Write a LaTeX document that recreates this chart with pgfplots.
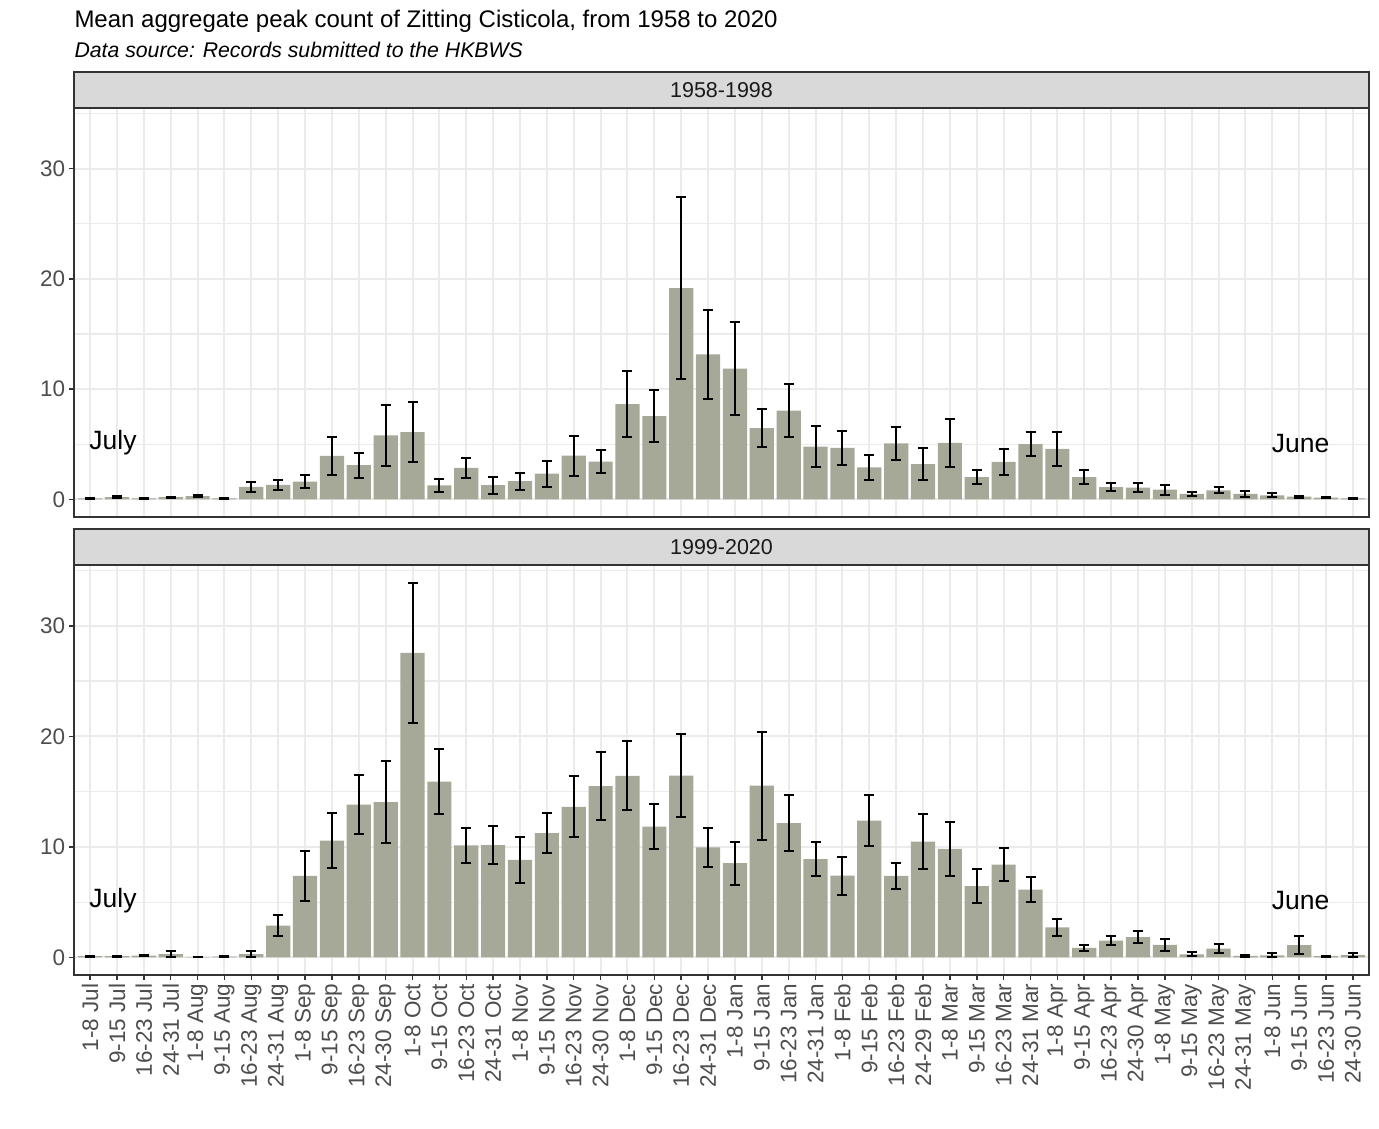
\documentclass[border=0pt]{standalone}
\usepackage{pgfplots}
\pgfplotsset{compat=1.18}
\usepackage{pgfplotstable}
\usepackage{fontspec}
\setmainfont{Liberation Sans}
\definecolor{barcol}{RGB}{166,168,152}
\definecolor{grid92}{RGB}{235,235,235}
\definecolor{grey20}{RGB}{51,51,51}
\definecolor{grey30}{RGB}{77,77,77}
\definecolor{strip}{RGB}{217,217,217}
\definecolor{grey10}{RGB}{26,26,26}

\pgfplotstableread{
x y e
1 0.10 0.05
2 0.20 0.06
3 0.10 0.04
4 0.20 0.05
5 0.30 0.08
6 0.10 0.04
7 1.13 0.47
8 1.32 0.45
9 1.61 0.56
10 3.95 1.72
11 3.10 1.15
12 5.81 2.77
13 6.10 2.75
14 1.26 0.58
15 2.85 0.94
16 1.28 0.77
17 1.65 0.76
18 2.33 1.19
19 3.96 1.82
20 3.42 1.07
21 8.63 3.00
22 7.56 2.32
23 19.15 8.25
24 13.15 4.05
25 11.86 4.19
26 6.46 1.73
27 8.04 2.41
28 4.78 1.86
29 4.67 1.57
30 2.91 1.13
31 5.08 1.50
32 3.20 1.48
33 5.12 2.20
34 2.02 0.60
35 3.40 1.20
36 5.02 1.10
37 4.58 1.54
38 2.02 0.60
39 1.10 0.35
40 1.07 0.38
41 0.88 0.45
42 0.49 0.22
43 0.82 0.28
44 0.49 0.25
45 0.37 0.17
46 0.24 0.10
47 0.15 0.06
48 0.10 0.05
}\toptable

\pgfplotstableread{
x y e
1 0.10 0.04
2 0.10 0.04
3 0.15 0.07
4 0.29 0.26
5 0.02 0.02
6 0.06 0.04
7 0.29 0.26
8 2.87 0.93
9 7.36 2.22
10 10.57 2.45
11 13.82 2.65
12 14.05 3.72
13 27.54 6.30
14 15.90 2.92
15 10.12 1.57
16 10.15 1.75
17 8.82 2.06
18 11.24 1.78
19 13.61 2.76
20 15.50 3.05
21 16.42 3.13
22 11.83 2.04
23 16.45 3.73
24 9.94 1.78
25 8.53 1.95
26 15.54 4.88
27 12.15 2.50
28 8.88 1.51
29 7.40 1.72
30 12.37 2.34
31 7.36 1.17
32 10.46 2.47
33 9.82 2.42
34 6.45 1.50
35 8.38 1.50
36 6.13 1.12
37 2.70 0.80
38 0.85 0.28
39 1.51 0.39
40 1.83 0.53
41 1.12 0.55
42 0.27 0.18
43 0.78 0.40
44 0.12 0.08
45 0.18 0.18
46 1.10 0.80
47 0.10 0.05
48 0.20 0.17
}\bottable

\pgfplotsset{
  panel/.style={
    scale only axis,
    width=518pt,
    xmin=0.4, xmax=48.6,
    ymin=-1.6, ymax=35.5,
    xtick={1,...,48},
    ytick={0,10,20,30},
    minor ytick={5,15,25,35},
    xmajorgrids, ymajorgrids, yminorgrids,
    major grid style={grid92, line width=0.8pt},
    minor grid style={grid92, line width=0.45pt},
    axis line style={grey20, line width=0.6pt},
    tick align=outside,
    major tick length=1.8pt,
    minor tick length=0pt,
    tick style={grey20, line width=0.6pt},
    yticklabel style={text=grey30, font=\fontsize{9}{10}\selectfont, inner sep=1.5pt},
    /pgf/number format/assume math mode=true,
    ybar, bar width=0.9,
    tick pos=left,
  },
  bars/.style={
    fill=barcol, draw=none,
    error bars/.cd, y dir=both, y explicit,
    error bar style={black, line width=0.8pt},
    error mark options={rotate=90, mark size=2pt, line width=0.8pt, black},
  },
}

\begin{document}
\begin{tikzpicture}[x=0.4pt,y=0.4pt]
\path[use as bounding box] (0,0) rectangle (1379,1128);
\coordinate (TA) at (74,611);
\coordinate (BA) at (74,153);

% titles
\node[anchor=base west, inner sep=0pt, font=\fontsize{9.6}{11}\selectfont] at (74,1100) {Mean aggregate peak count of Zitting Cisticola, from 1958 to 2020};
\node[anchor=base west, inner sep=0pt, font=\fontsize{8.5}{10}\selectfont\itshape] at (74,1070) {Data source: Records submitted to the HKBWS};

% strips
\draw[fill=strip, draw=grey20, line width=0.6pt] (74,1020) rectangle (1369,1056);
\node[font=\fontsize{8.6}{10}\selectfont, text=grey10] at (721.5,1038) {1958-1998};
\draw[fill=strip, draw=grey20, line width=0.6pt] (74,563) rectangle (1369,599);
\node[font=\fontsize{8.6}{10}\selectfont, text=grey10] at (721.5,581) {1999-2020};

% top panel
\begin{axis}[panel, at={(TA)}, anchor=south west, height=163.6pt,
  xticklabels={}, xtick style={draw=none}]
\addplot[bars] table[x=x, y=y, y error=e] {\toptable};
\node[font=\fontsize{10.6}{12}\selectfont] at (axis cs:1.85,5.1) {July};
\node[font=\fontsize{10.6}{12}\selectfont] at (axis cs:46.05,5.1) {June};
\end{axis}

% bottom panel
\begin{axis}[panel, at={(BA)}, anchor=south west, height=164pt,
  xticklabels={1-8 Jul,9-15 Jul,16-23 Jul,24-31 Jul,1-8 Aug,9-15 Aug,16-23 Aug,24-31 Aug,1-8 Sep,9-15 Sep,16-23 Sep,24-30 Sep,1-8 Oct,9-15 Oct,16-23 Oct,24-31 Oct,1-8 Nov,9-15 Nov,16-23 Nov,24-30 Nov,1-8 Dec,9-15 Dec,16-23 Dec,24-31 Dec,1-8 Jan,9-15 Jan,16-23 Jan,24-31 Jan,1-8 Feb,9-15 Feb,16-23 Feb,24-29 Feb,1-8 Mar,9-15 Mar,16-23 Mar,24-31 Mar,1-8 Apr,9-15 Apr,16-23 Apr,24-30 Apr,1-8 May,9-15 May,16-23 May,24-31 May,1-8 Jun,9-15 Jun,16-23 Jun,24-30 Jun},
  xticklabel style={rotate=90, anchor=east, text=grey30, font=\fontsize{9}{10}\selectfont, inner sep=1.5pt}]
\addplot[bars] table[x=x, y=y, y error=e] {\bottable};
\node[font=\fontsize{10.6}{12}\selectfont] at (axis cs:1.85,5.1) {July};
\node[font=\fontsize{10.6}{12}\selectfont] at (axis cs:46.05,5.1) {June};
\end{axis}
\end{tikzpicture}
\end{document}
